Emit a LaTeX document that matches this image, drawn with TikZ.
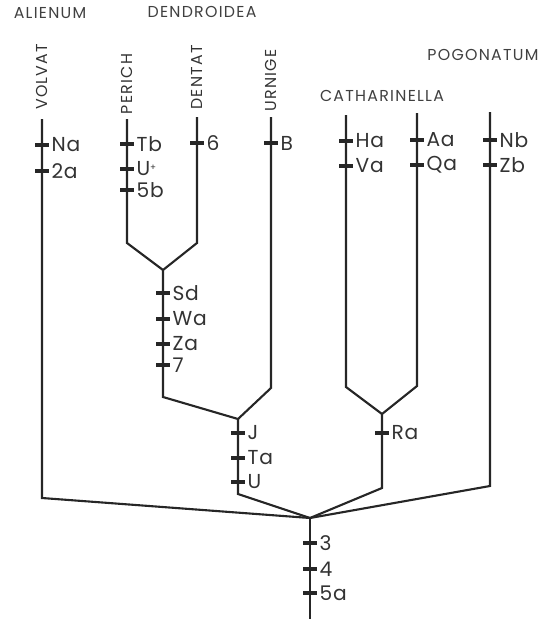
\documentclass[tikz,border=0pt]{standalone}
\usepackage{fontspec}
\setmainfont{Poppins}
\newfontfamily\spacedfont[LetterSpace=8]{Poppins}
\newfontfamily\tickfont[LetterSpace=4]{Poppins}
\usepackage{tikz}
\begin{document}
\begin{tikzpicture}[
  x=0.02cm,y=-0.02cm,
  branch/.style={line width=1.2pt,draw=black!85,line join=miter},
  tick/.style={line width=1.9pt,draw=black!85},
  lab/.style={right,inner sep=0.5pt,font=\tickfont\fontsize{11.5}{12}\selectfont,text=black!80},
  taxon/.style={rotate=90,anchor=west,inner sep=0pt,font=\spacedfont\fontsize{9}{9}\selectfont,text=black!80},
  group/.style={inner sep=0pt,font=\spacedfont\fontsize{9}{9}\selectfont,text=black!75}
]
\useasboundingbox (0,0) rectangle (552,619);
\coordinate (volvat) at (42,119);
\coordinate (volvatbend) at (42,498);
\coordinate (perich) at (127,119);
\coordinate (perichbend) at (127,243);
\coordinate (dentat) at (197,117);
\coordinate (dentatbend) at (197,243);
\coordinate (dendro) at (163,270);
\coordinate (dendrobend) at (163,397);
\coordinate (urnige) at (271,117);
\coordinate (urnigebend) at (271,388);
\coordinate (urnjoin) at (238,419);
\coordinate (urnjoinbend) at (238,494);
\coordinate (ha) at (346,115);
\coordinate (habend) at (346,387);
\coordinate (aa) at (417,113);
\coordinate (aabend) at (417,386);
\coordinate (cathjoin) at (382,414);
\coordinate (cathbend) at (382,488);
\coordinate (pogo) at (490,112);
\coordinate (pogobend) at (490,486);
\coordinate (root) at (310,518);
\coordinate (rootend) at (310,619);
\node[group] (alienum) at (50,13) {ALIENUM};
\node[group] (dendroidea) at (202,12) {DENDROIDEA};
\node[group] (pogonatum) at (483,55) {POGONATUM};
\node[group] (catharinella) at (382,96) {CATHARINELLA};
\node[taxon] (volvatlab) at ([yshift=5pt]volvat) {VOLVAT};
\node[taxon] (perichlab) at ([yshift=2.5pt]perich) {PERICH};
\node[taxon] (dentatlab) at ([yshift=4pt]dentat) {DENTAT};
\node[taxon] (urnigelab) at ([yshift=3pt]urnige) {URNIGE};
\draw[branch] (volvat) -- (volvatbend) -- (root);
\draw[branch] (perich) -- (perichbend) -- (dendro);
\draw[branch] (dentat) -- (dentatbend) -- (dendro);
\draw[branch] (dendro) -- (dendrobend) -- (urnjoin);
\draw[branch] (urnige) -- (urnigebend) -- (urnjoin);
\draw[branch] (urnjoin) -- (urnjoinbend) -- (root);
\draw[branch] (ha) -- (habend) -- (cathjoin);
\draw[branch] (aa) -- (aabend) -- (cathjoin);
\draw[branch] (cathjoin) -- (cathbend) -- (root);
\draw[branch] (pogo) -- (pogobend) -- (root);
\draw[branch] (root) -- (rootend);
\foreach \x/\y/\t in {42/145/Na,42/171/2a,
                      127/144/Tb,127/169/{U\raisebox{0.5ex}{\tiny+}},127/190/5b,
                      197/143/6,271/143/B,
                      163/293/Sd,163/319/Wa,163/344/Za,163/365/7,
                      238/433/J,238/458/Ta,238/482/U,
                      346/141/Ha,346/166/Va,417/140/Aa,417/165/Qa,
                      490/140/Nb,490/165/Zb,382/433/Ra,
                      310/543/3,310/569/4,310/593/5a}
  \draw[tick] (\x,\y) +(-7,0) -- +(7,0) node[lab] {\t};
\end{tikzpicture}
\end{document}
